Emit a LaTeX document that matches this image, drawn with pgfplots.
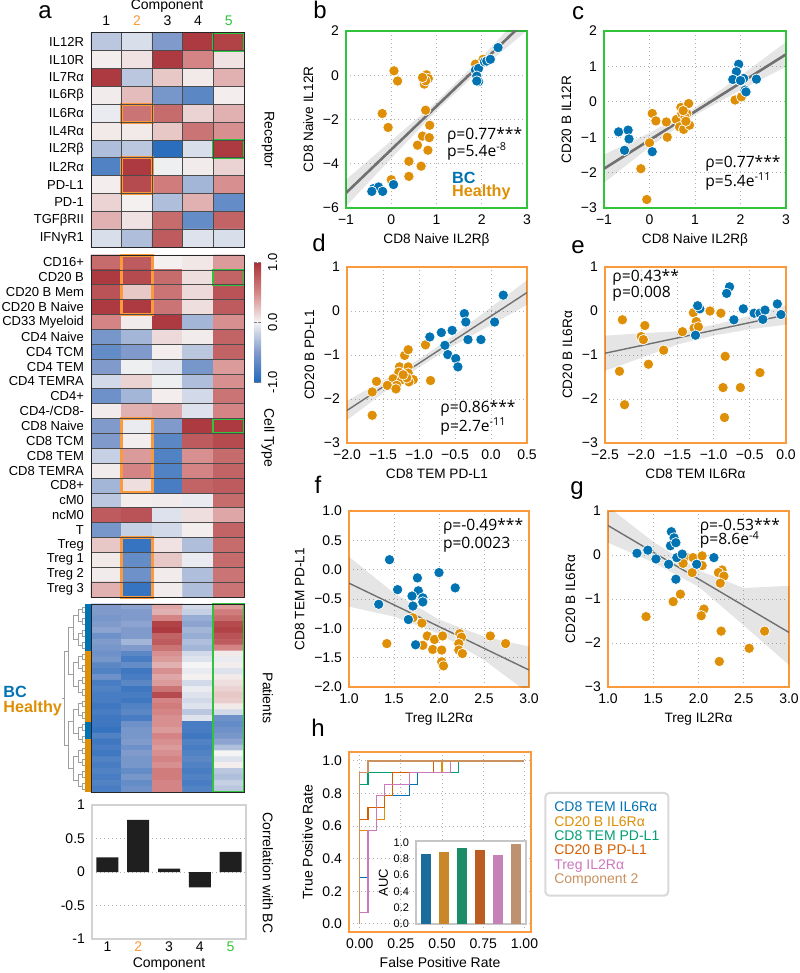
\documentclass[border=0pt]{standalone}
\usepackage{fontspec}
\setmainfont{Liberation Sans}
\newfontfamily\annfont{Open Sans}
\usepackage{pgfplots}
\pgfplotsset{compat=1.18}
\newcommand{\fs}[1]{\fontsize{#1}{#1}\selectfont}
\definecolor{bcblue}{RGB}{1,115,178}
\definecolor{hlor}{RGB}{222,143,5}
\definecolor{frameor}{RGB}{250,154,60}
\definecolor{framegr}{RGB}{50,195,60}
\definecolor{regc}{RGB}{112,112,112}
\definecolor{rocb}{RGB}{1,115,178}
\definecolor{roco}{RGB}{222,143,5}
\definecolor{rocg}{RGB}{2,158,115}
\definecolor{rocv}{RGB}{213,94,0}
\definecolor{rocp}{RGB}{204,120,188}
\definecolor{rocbr}{RGB}{202,145,97}
\definecolor{auca}{RGB}{26,108,156}
\definecolor{aucb}{RGB}{200,135,40}
\definecolor{aucc}{RGB}{26,140,104}
\definecolor{aucd}{RGB}{188,92,34}
\definecolor{auce}{RGB}{196,130,184}
\definecolor{aucf}{RGB}{190,146,112}
\tikzset{ann/.style={anchor=west, font=\annfont\fs{7.8}, inner sep=0pt}}
\pgfplotsset{
  colormap={vlag}{rgb255=(35,105,189) rgb255=(128,155,203) rgb255=(245,244,244) rgb255=(212,132,132) rgb255=(168,50,56)},
  heat/.style={scale only axis, anchor=north west, width=76.5pt, enlargelimits=false,
    xmin=-0.5, xmax=4.5, y dir=reverse, colormap name=vlag, point meta min=-1, point meta max=1,
    axis on top, major tick length=0pt, minor tick length=0pt,
    minor xtick={0.5,1.5,2.5,3.5}, xminorgrids=true, yminorgrids=true,
    minor grid style={black!70, line width=0.35pt},
    axis line style={black!85, line width=0.5pt},
    tick label style={font=\fs{6.5}}, clip=false},
  hm/.style={matrix plot*, mesh/cols=5, point meta=explicit},
  sc/.style={scale only axis, anchor=north west, enlargelimits=false, grid=major,
    grid style={gray!60, line width=0.5pt, dash pattern=on 0.6pt off 1.4pt},
    major tick length=0pt, tick label style={font=\fs{7}}, label style={font=\fs{6.8}},
    xlabel style={yshift=2.5pt}, ylabel style={yshift=-2pt}},
  bcpt/.style={only marks, mark=*, mark size=2.6pt, mark options={fill=bcblue, draw=white, line width=0.35pt}},
  hlpt/.style={only marks, mark=*, mark size=2.6pt, mark options={fill=hlor, draw=white, line width=0.35pt}},
  band/.style={fill=black, fill opacity=0.1, draw=none},
}
\begin{document}
\begin{tikzpicture}
\useasboundingbox (0pt,0pt) rectangle (399.5pt,-486.5pt);

% ---------------- panel a: receptor heatmap
\begin{axis}[heat, at={(45.5pt,-16.5pt)}, height=107pt, ymin=-0.5, ymax=11.5,
  xtick={0,1,2,3,4}, xticklabels={1,\textcolor{frameor}{2},3,4,\textcolor{framegr}{5}}, xticklabel pos=upper,
  xticklabel style={font=\fs{7}},
  ytick={0,...,11}, yticklabels={IL12R,IL10R,IL7Rα,IL6Rβ,IL6Rα,IL4Rα,IL2Rβ,IL2Rα,PD-L1,PD-1,TGFβRII,IFNγR1},
  minor ytick={0.5,1.5,...,10.5}]
\addplot[hm] coordinates {
(0,0)[-0.25] (1,0)[-0.12] (2,0)[-0.5] (3,0)[0.95] (4,0)[0.9]
(0,1)[0.03] (1,1)[0.08] (2,1)[0.95] (3,1)[0.5] (4,1)[0.08]
(0,2)[0.95] (1,2)[-0.25] (2,2)[0.2] (3,2)[0.05] (4,2)[0.3]
(0,3)[0.04] (1,3)[0.25] (2,3)[-0.55] (3,3)[-0.7] (4,3)[0.03]
(0,4)[-0.05] (1,4)[0.6] (2,4)[0.65] (3,4)[0.15] (4,4)[0.3]
(0,5)[0.05] (1,5)[0.05] (2,5)[0.2] (3,5)[0.6] (4,5)[0.45]
(0,6)[-0.3] (1,6)[-0.25] (2,6)[-0.95] (3,6)[-0.12] (4,6)[0.95]
(0,7)[-0.75] (1,7)[0.95] (2,7)[-0.03] (3,7)[0.04] (4,7)[0.15]
(0,8)[0.03] (1,8)[0.85] (2,8)[0.55] (3,8)[-0.35] (4,8)[0.45]
(0,9)[0.15] (1,9)[0.02] (2,9)[-0.3] (3,9)[0.3] (4,9)[-0.65]
(0,10)[0.3] (1,10)[0.08] (2,10)[0.65] (3,10)[-0.65] (4,10)[0.7]
(0,11)[-0.12] (1,11)[-0.3] (2,11)[0.75] (3,11)[-0.1] (4,11)[-0.12]
};
\draw[frameor, line width=1.5pt] (axis cs:0.5,3.5) rectangle (axis cs:1.5,4.5);
\draw[frameor, line width=1.5pt] (axis cs:0.5,6.5) rectangle (axis cs:1.5,8.5);
\draw[framegr, line width=1pt] (axis cs:3.5,-0.5) rectangle (axis cs:4.5,0.5);
\draw[framegr, line width=1pt] (axis cs:3.5,5.5) rectangle (axis cs:4.5,6.5);
\end{axis}

% ---------------- cell type heatmap
\begin{axis}[heat, at={(45.5pt,-127.5pt)}, height=171pt, ymin=-0.5, ymax=22.5,
  xtick=\empty, ytick={0,...,22},
  yticklabels={CD16+,CD20 B,CD20 B Mem,CD20 B Naive,CD33 Myeloid,CD4 Naive,CD4 TCM,CD4 TEM,CD4 TEMRA,CD4+,CD4-/CD8-,CD8 Naive,CD8 TCM,CD8 TEM,CD8 TEMRA,CD8+,cM0,ncM0,T,Treg,Treg 1,Treg 2,Treg 3},
  minor ytick={0.5,1.5,...,21.5},
  colorbar, colorbar style={at={(parent axis.north east)}, anchor=north west, xshift=-3.5pt, yshift=-3.5pt,
    width=3.5pt, height=60pt, ytick={-1,0,1}, yticklabels={-1.0,0.0,1.0},
    yticklabel style={rotate=90, anchor=north, font=\fs{6.5}}, major tick length=1.5pt,
    axis line style={draw=none}}]
\addplot[hm] coordinates {
(0,0)[0.65] (1,0)[0.75] (2,0)[0.02] (3,0)[0.06] (4,0)[0.4]
(0,1)[0.95] (1,1)[0.85] (2,1)[0.65] (3,1)[0.1] (4,1)[0.7]
(0,2)[0.8] (1,2)[0.2] (2,2)[0.6] (3,2)[0.12] (4,2)[0.8]
(0,3)[0.95] (1,3)[0.95] (2,3)[0.6] (3,3)[0.1] (4,3)[0.75]
(0,4)[0.5] (1,4)[0.04] (2,4)[0.95] (3,4)[-0.35] (4,4)[0.45]
(0,5)[-0.55] (1,5)[-0.35] (2,5)[0.12] (3,5)[0.04] (4,5)[0.7]
(0,6)[-0.65] (1,6)[-0.5] (2,6)[0.03] (3,6)[-0.25] (4,6)[0.7]
(0,7)[-0.5] (1,7)[-0.03] (2,7)[-0.1] (3,7)[-0.55] (4,7)[0.4]
(0,8)[-0.15] (1,8)[0.15] (2,8)[-0.03] (3,8)[-0.3] (4,8)[0.45]
(0,9)[-0.6] (1,9)[-0.35] (2,9)[0.03] (3,9)[-0.15] (4,9)[0.6]
(0,10)[0.04] (1,10)[0.3] (2,10)[0.35] (3,10)[-0.1] (4,10)[0.5]
(0,11)[-0.5] (1,11)[-0.05] (2,11)[-0.5] (3,11)[0.95] (4,11)[0.95]
(0,12)[-0.5] (1,12)[0.03] (2,12)[-0.7] (3,12)[0.75] (4,12)[0.85]
(0,13)[-0.2] (1,13)[0.4] (2,13)[-0.75] (3,13)[0.45] (4,13)[0.65]
(0,14)[0.04] (1,14)[0.5] (2,14)[-0.75] (3,14)[0.5] (4,14)[0.7]
(0,15)[-0.35] (1,15)[0.1] (2,15)[-0.8] (3,15)[0.7] (4,15)[0.75]
(0,16)[-0.25] (1,16)[0.03] (2,16)[0.04] (3,16)[-0.05] (4,16)[0.65]
(0,17)[0.75] (1,17)[0.8] (2,17)[-0.1] (3,17)[0.1] (4,17)[0.35]
(0,18)[-0.55] (1,18)[-0.2] (2,18)[-0.15] (3,18)[0.03] (4,18)[0.7]
(0,19)[0.2] (1,19)[-0.9] (2,19)[0.08] (3,19)[-0.3] (4,19)[0.65]
(0,20)[0.05] (1,20)[-0.65] (2,20)[0.2] (3,20)[-0.05] (4,20)[0.65]
(0,21)[0.04] (1,21)[-0.6] (2,21)[0.04] (3,21)[-0.3] (4,21)[0.6]
(0,22)[0.3] (1,22)[-0.9] (2,22)[0.04] (3,22)[-0.3] (4,22)[0.6]
};
\draw[frameor, line width=1.5pt] (axis cs:0.5,-0.5) rectangle (axis cs:1.5,3.5);
\draw[frameor, line width=1.5pt] (axis cs:0.5,10.5) rectangle (axis cs:1.5,15.5);
\draw[frameor, line width=1.5pt] (axis cs:0.5,18.5) rectangle (axis cs:1.5,22.5);
\draw[framegr, line width=1pt] (axis cs:3.5,0.5) rectangle (axis cs:4.5,1.5);
\draw[framegr, line width=1pt] (axis cs:3.5,10.5) rectangle (axis cs:4.5,11.5);
\end{axis}

% ---------------- patients heatmap
\begin{axis}[heat, at={(45.5pt,-302pt)}, height=94pt, ymin=-0.5, ymax=31.5,
  xtick=\empty, ytick=\empty, minor ytick={0.5,1.5,...,30.5},
  minor grid style={black!70, line width=0.3pt}]
\addplot[hm] coordinates {
(0,0)[-0.5] (1,0)[-0.45] (2,0)[0.35] (3,0)[-0.15] (4,0)[0.4]
(0,1)[-0.5] (1,1)[-0.5] (2,1)[0.3] (3,1)[-0.2] (4,1)[0.55]
(0,2)[-0.55] (1,2)[-0.5] (2,2)[0.5] (3,2)[-0.4] (4,2)[0.65]
(0,3)[-0.5] (1,3)[-0.45] (2,3)[0.9] (3,3)[-0.45] (4,3)[0.85]
(0,4)[-0.45] (1,4)[-0.5] (2,4)[0.95] (3,4)[-0.35] (4,4)[0.9]
(0,5)[-0.6] (1,5)[-0.5] (2,5)[0.7] (3,5)[-0.4] (4,5)[0.8]
(0,6)[-0.5] (1,6)[-0.35] (2,6)[0.75] (3,6)[-0.3] (4,6)[0.75]
(0,7)[-0.55] (1,7)[-0.5] (2,7)[0.6] (3,7)[-0.35] (4,7)[0.5]
(0,8)[-0.6] (1,8)[-0.7] (2,8)[0.45] (3,8)[-0.15] (4,8)[0.05]
(0,9)[-0.55] (1,9)[-0.8] (2,9)[0.4] (3,9)[-0.1] (4,9)[-0.05]
(0,10)[-0.7] (1,10)[-0.65] (2,10)[0.3] (3,10)[0.0] (4,10)[0.03]
(0,11)[-0.75] (1,11)[-0.85] (2,11)[0.45] (3,11)[-0.05] (4,11)[-0.1]
(0,12)[-0.6] (1,12)[-0.8] (2,12)[0.35] (3,12)[0.02] (4,12)[0.05]
(0,13)[-0.8] (1,13)[-0.7] (2,13)[0.4] (3,13)[-0.15] (4,13)[0.1]
(0,14)[-0.75] (1,14)[-0.85] (2,14)[0.6] (3,14)[-0.05] (4,14)[0.15]
(0,15)[-0.8] (1,15)[-0.8] (2,15)[0.85] (3,15)[-0.1] (4,15)[0.2]
(0,16)[-0.8] (1,16)[-0.85] (2,16)[0.5] (3,16)[-0.15] (4,16)[0.18]
(0,17)[-0.85] (1,17)[-0.75] (2,17)[0.55] (3,17)[-0.1] (4,17)[0.05]
(0,18)[-0.8] (1,18)[-0.7] (2,18)[0.5] (3,18)[-0.25] (4,18)[-0.15]
(0,19)[-0.85] (1,19)[-0.8] (2,19)[0.45] (3,19)[-0.1] (4,19)[-0.6]
(0,20)[-0.85] (1,20)[-0.6] (2,20)[0.45] (3,20)[-0.8] (4,20)[-0.65]
(0,21)[-0.9] (1,21)[-0.55] (2,21)[0.4] (3,21)[-0.8] (4,21)[-0.6]
(0,22)[-0.75] (1,22)[-0.55] (2,22)[0.5] (3,22)[-0.85] (4,22)[-0.55]
(0,23)[-0.85] (1,23)[-0.5] (2,23)[0.45] (3,23)[-0.75] (4,23)[-0.45]
(0,24)[-0.8] (1,24)[-0.6] (2,24)[0.4] (3,24)[-0.8] (4,24)[-0.3]
(0,25)[-0.85] (1,25)[-0.5] (2,25)[0.45] (3,25)[-0.75] (4,25)[0.0]
(0,26)[-0.75] (1,26)[-0.55] (2,26)[0.5] (3,26)[-0.7] (4,26)[-0.1]
(0,27)[-0.8] (1,27)[-0.55] (2,27)[0.45] (3,27)[-0.75] (4,27)[0.03]
(0,28)[-0.75] (1,28)[-0.65] (2,28)[0.55] (3,28)[-0.8] (4,28)[-0.25]
(0,29)[-0.8] (1,29)[-0.55] (2,29)[0.55] (3,29)[-0.75] (4,29)[-0.3]
(0,30)[-0.75] (1,30)[-0.65] (2,30)[0.5] (3,30)[-0.8] (4,30)[-0.2]
(0,31)[-0.8] (1,31)[-0.6] (2,31)[0.5] (3,31)[-0.75] (4,31)[-0.25]
};
\draw[framegr, line width=1pt] (axis cs:3.5,-0.5) rectangle (axis cs:4.5,31.5);
\end{axis}

% ---------------- dendrogram + group bar
\begin{axis}[scale only axis, anchor=north west, at={(31pt,-302pt)}, width=14.5pt, height=94pt,
  hide axis, xmin=0, xmax=29, ymin=0, ymax=32, y dir=reverse, clip=false]
\addplot[gray!75, line width=0.4pt, unbounded coords=jump] coordinates {
(23,0.5)(20,0.5)(20,1.5)(23,1.5)(0,nan)
(23,2.5)(20,2.5)(20,3.5)(23,3.5)(0,nan)
(23,4.5)(20,4.5)(20,5.5)(23,5.5)(0,nan)
(23,6.5)(20,6.5)(20,7.5)(23,7.5)(0,nan)
(23,8.5)(20,8.5)(20,9.5)(23,9.5)(0,nan)
(23,10.5)(20,10.5)(20,11.5)(23,11.5)(0,nan)
(23,12.5)(20,12.5)(20,13.5)(23,13.5)(0,nan)
(23,14.5)(20,14.5)(20,15.5)(23,15.5)(0,nan)
(23,16.5)(20,16.5)(20,17.5)(23,17.5)(0,nan)
(23,18.5)(20,18.5)(20,19.5)(23,19.5)(0,nan)
(23,20.5)(20,20.5)(20,21.5)(23,21.5)(0,nan)
(23,22.5)(20,22.5)(20,23.5)(23,23.5)(0,nan)
(23,24.5)(20,24.5)(20,25.5)(23,25.5)(0,nan)
(23,26.5)(20,26.5)(20,27.5)(23,27.5)(0,nan)
(23,28.5)(20,28.5)(20,29.5)(23,29.5)(0,nan)
(23,30.5)(20,30.5)(20,31.5)(23,31.5)(0,nan)
(20,1)(16,1)(16,3)(20,3)(0,nan)
(20,5)(16,5)(16,7)(20,7)(0,nan)
(20,9)(16,9)(16,11)(20,11)(0,nan)
(20,13)(16,13)(16,15)(20,15)(0,nan)
(20,17)(16,17)(16,19)(20,19)(0,nan)
(20,21)(16,21)(16,23)(20,23)(0,nan)
(20,25)(16,25)(16,27)(20,27)(0,nan)
(20,29)(16,29)(16,31)(20,31)(0,nan)
(16,2)(11,2)(11,6)(16,6)(0,nan)
(16,10)(11,10)(11,14)(16,14)(0,nan)
(16,18)(11,18)(11,22)(16,22)(0,nan)
(16,26)(11,26)(11,30)(16,30)(0,nan)
(11,4)(6,4)(6,12)(11,12)(0,nan)
(11,20)(6,20)(6,28)(11,28)(0,nan)
(6,8)(2,8)(2,24)(6,24)(0,nan)
(2,16)(0,16)
};
\addplot[bcblue, line width=3pt] coordinates {(26,0) (26,8)};
\addplot[hlor, line width=3pt] coordinates {(26,8) (26,20)};
\addplot[bcblue, line width=3pt] coordinates {(26,20) (26,23)};
\addplot[hlor, line width=3pt] coordinates {(26,23) (26,32)};
\end{axis}

% ---------------- correlation bar chart
\begin{axis}[scale only axis, anchor=north west, at={(46pt,-402.5pt)}, width=77pt, height=67pt,
  xmin=0.5, xmax=5.5, ymin=-1, ymax=1, ybar, bar width=11pt, bar shift=0pt,
  xtick={1,2,3,4,5}, xticklabels={1,\textcolor{frameor}{2},3,4,\textcolor{framegr}{5}},
  xticklabel style={yshift=2pt},
  ytick={-1,-0.5,0,0.5,1}, yticklabels={-1,-0.5,0,0.5,1},
  ymajorgrids, grid style={gray!60, line width=0.5pt, dash pattern=on 0.6pt off 1.4pt},
  major tick length=0pt, axis line style={gray!35, line width=1pt},
  tick label style={font=\fs{7}}, xlabel={Component}, label style={font=\fs{7}},
  xlabel style={yshift=4pt}]
\addplot[fill=black!88, draw=none] coordinates {(1,0.22) (2,0.78) (3,0.05) (4,-0.23) (5,0.30)};
\end{axis}

% labels for panel a
\node[font=\fs{12}] at (22.5pt,-6pt) {a};
\node[font=\fs{7}] at (83.5pt,-3pt) {Component};
\node[font=\fs{7}, rotate=-90] at (134pt,-70pt) {Receptor};
\node[font=\fs{7}, rotate=-90] at (134pt,-219pt) {Cell Type};
\node[font=\fs{7}, rotate=-90] at (134pt,-349pt) {Patients};
\node[font=\fs{7}, rotate=-90] at (134pt,-436.5pt) {Correlation with BC};
\node[font=\fs{8.1}\bfseries, text=bcblue, anchor=west, inner sep=0pt] at (1.5pt,-346pt) {BC};
\node[font=\fs{8.1}\bfseries, text=hlor, anchor=west, inner sep=0pt] at (1.5pt,-354pt) {Healthy};

% ---------------- panel b
\begin{axis}[sc, at={(173pt,-15.5pt)}, width=90.5pt, height=88.5pt, axis line style={framegr, line width=0.8pt},
  xmin=-1, xmax=3, ymin=-6, ymax=2, xtick={-1,0,1,2,3}, xticklabels={−1,0,1,2,3},
  ytick={-6,-4,-2,0,2}, yticklabels={−6,−4,−2,0,2},
  xlabel={CD8 Naive IL2Rβ}, ylabel={CD8 Naive IL12R}]
\addplot[band] coordinates {(-1,-4.72) (0,-2.96) (1,-1.2) (2,0.81) (3,3.02) (3,2.02) (2,0.31) (1,-1.6) (0,-3.76) (-1,-5.92)};
\addplot[regc, line width=1.3pt] coordinates {(-1,-5.32) (3,2.52)};
\addplot[hlpt] coordinates {(0.06,0.2) (0.14,-0.26) (0.72,-0.05) (0.78,0.02) (0.73,-0.4) (0.82,-0.15) (0.76,-0.25) (0.69,-0.1) (0.76,-1.58) (-0.2,-1.73) (-0.07,-2.36) (0.85,-2.26) (0.69,-2.75) (0.84,-2.82) (0.58,-3.16) (0.81,-3.39) (0.39,-3.89) (0.39,-4.57) (0.66,-4.11) (0.0,-4.72) (1.86,0.5) (2.03,0.72)};
\addplot[bcpt] coordinates {(2.36,1.25) (1.86,0.23) (1.93,0.31) (2.06,0.61) (2.11,0.64) (2.19,0.72) (1.89,-0.04) (1.93,-0.29) (1.89,-0.26) (-0.39,-5.12) (-0.28,-5.05) (-0.43,-5.25) (-0.19,-5.25) (0.05,-4.94)};
\node[ann] at (rel axis cs:0.556,0.412) {ρ=0.77***};
\node[ann] at (rel axis cs:0.556,0.318) {p=5.4e\textsuperscript{-8}};
\node[anchor=west, font=\fs{8.1}\bfseries, text=bcblue, inner sep=0pt] at (rel axis cs:0.584,0.17) {BC};
\node[anchor=west, font=\fs{8.1}\bfseries, text=hlor, inner sep=0pt] at (rel axis cs:0.584,0.086) {Healthy};
\end{axis}
\node[font=\fs{12}] at (160pt,-5pt) {b};

% ---------------- panel c
\begin{axis}[sc, at={(302pt,-15.5pt)}, width=91pt, height=88.5pt, axis line style={framegr, line width=0.8pt},
  xmin=-1, xmax=3, ymin=-3, ymax=2, xtick={-1,0,1,2,3}, xticklabels={−1,0,1,2,3},
  ytick={-3,-2,-1,0,1,2}, yticklabels={−3,−2,−1,0,1,2},
  xlabel={CD8 Naive IL2Rβ}, ylabel={CD20 B IL12R}]
\addplot[band] coordinates {(-1,-1.49) (0,-0.88) (1,-0.175) (2,0.73) (3,1.69) (3,0.99) (2,0.33) (1,-0.375) (0,-1.28) (-1,-2.29)};
\addplot[regc, line width=1.3pt] coordinates {(-1,-1.89) (3,1.34)};
\addplot[hlpt] coordinates {(1.88,0.05) (2.02,0.14) (0.06,-0.33) (0.14,-0.54) (0.37,-0.57) (0.39,-1.0) (0.0,-1.16) (-0.19,-1.89) (-0.06,-2.76) (0.59,-0.5) (0.69,-0.16) (0.86,-0.05) (0.71,-0.33) (0.82,-0.33) (0.66,-0.71) (0.75,-0.78) (0.88,-0.66) (0.78,-0.43) (0.74,-0.25) (0.8,-0.55)};
\addplot[bcpt] coordinates {(-0.68,-0.85) (-0.47,-0.8) (-0.45,-1.05) (-0.55,-1.37) (0.06,-1.41) (1.96,1.06) (1.91,0.85) (1.83,0.63) (2.07,0.66) (2.1,0.33) (2.35,0.64) (2.0,0.6) (2.12,0.28)};
\node[ann] at (rel axis cs:0.555,0.252) {ρ=0.77***};
\node[ann] at (rel axis cs:0.555,0.149) {p=5.4e\textsuperscript{-11}};
\end{axis}
\node[font=\fs{12}] at (289pt,-6.5pt) {c};

% ---------------- panel d
\begin{axis}[sc, at={(173.5pt,-133.5pt)}, width=90pt, height=88pt, axis line style={frameor, line width=0.8pt},
  xmin=-2, xmax=0.5, ymin=-3, ymax=1, xtick={-2,-1.5,-1,-0.5,0,0.5}, xticklabels={−2.0,−1.5,−1.0,−0.5,0.0,0.5},
  ytick={-3,-2,-1,0,1}, yticklabels={−3,−2,−1,0,1},
  xlabel={CD8 TEM PD-L1}, ylabel={CD20 B PD-L1}]
\addplot[band] coordinates {(-2,-2.04) (-1.5,-1.584) (-1,-1.098) (-0.5,-0.532) (0,0.084) (0.5,0.7) (0.5,0.14) (0,-0.316) (-0.5,-0.772) (-1,-1.278) (-1.5,-1.864) (-2,-2.48)};
\addplot[regc, line width=0.7pt] coordinates {(-2,-2.26) (0.5,0.42)};
\addplot[hlpt] coordinates {(-0.91,-0.77) (-1.2,-1.01) (-1.15,-0.88) (-1.27,-1.27) (-1.15,-1.27) (-1.28,-1.39) (-1.36,-1.54) (-1.24,-1.56) (-1.15,-1.41) (-1.08,-1.56) (-1.14,-1.61) (-1.31,-1.69) (-1.44,-1.69) (-1.59,-1.6) (-1.65,-1.84) (-0.84,-1.58) (-1.65,-2.37) (-1.32,-1.77) (-1.17,-1.52) (-1.22,-1.45)};
\addplot[bcpt] coordinates {(0.17,0.36) (-0.37,-0.06) (-0.35,-0.25) (0.05,-0.25) (-0.85,-0.59) (-0.69,-0.49) (-0.54,-0.44) (-0.32,-0.65) (-0.14,-0.65) (-0.64,-0.78) (-0.6,-0.99) (-0.49,-1.08) (-0.46,-1.27)};
\node[ann] at (rel axis cs:0.517,0.197) {ρ=0.86***};
\node[ann] at (rel axis cs:0.517,0.093) {p=2.7e\textsuperscript{-11}};
\end{axis}
\node[font=\fs{12}] at (159.5pt,-121.5pt) {d};

% ---------------- panel e
\begin{axis}[sc, at={(302.5pt,-133.5pt)}, width=90.5pt, height=88pt, axis line style={frameor, line width=0.8pt},
  xmin=-2.5, xmax=0, ymin=-3, ymax=1, xtick={-2.5,-2,-1.5,-1,-0.5,0}, xticklabels={−2.5,−2.0,−1.5,−1.0,−0.5,0.0},
  ytick={-3,-2,-1,0,1}, yticklabels={−3,−2,−1,0,1},
  xlabel={CD8 TEM IL6Rα}, ylabel={CD20 B IL6Rα}]
\addplot[band] coordinates {(-2.5,-0.56) (-2,-0.506) (-1.5,-0.462) (-1,-0.318) (-0.5,-0.114) (0,0.13) (0,-0.31) (-0.5,-0.414) (-1,-0.558) (-1.5,-0.762) (-2,-1.066) (-2.5,-1.36)};
\addplot[regc, line width=0.7pt] coordinates {(-2.5,-0.96) (0,-0.09)};
\addplot[hlpt] coordinates {(-2.26,-0.2) (-1.95,-0.33) (-2.0,-0.58) (-1.97,-0.65) (-1.69,-0.89) (-1.9,-1.21) (-2.3,-1.37) (-2.23,-2.13) (-1.43,-0.47) (-1.28,-0.04) (-1.24,-0.24) (-1.27,-0.39) (-1.21,-0.36) (-1.05,0.0) (-0.9,-0.05) (-0.84,-1.03) (-0.87,-1.74) (-0.63,-1.74) (-0.36,-1.4) (-0.85,-2.42)};
\addplot[bcpt] coordinates {(-1.25,-0.55) (-0.72,-0.2) (-0.59,0.05) (-0.44,-0.05) (-0.36,-0.05) (-0.29,0.02) (-0.32,-0.19) (-0.12,0.16) (-0.07,-0.08) (-1.19,0.05) (-0.78,0.55) (-0.82,0.4) (-1.22,0.12)};
\node[ann] at (rel axis cs:0.039,0.943) {ρ=0.43**};
\node[ann] at (rel axis cs:0.039,0.847) {p=0.008};
\end{axis}
\node[font=\fs{12}] at (289pt,-123.5pt) {e};

% ---------------- panel f
\begin{axis}[sc, at={(174.5pt,-255.5pt)}, width=90pt, height=88pt, axis line style={frameor, line width=0.8pt},
  xmin=1, xmax=3, ymin=-2, ymax=1, xtick={1,1.5,2,2.5,3}, xticklabels={1.0,1.5,2.0,2.5,3.0},
  ytick={-2,-1.5,-1,-0.5,0,0.5,1}, yticklabels={−2.0,−1.5,−1.0,−0.5,0.0,0.5,1.0},
  xlabel={Treg IL2Rα}, ylabel={CD8 TEM PD-L1}]
\addplot[band] coordinates {(1,0.22) (1.5,-0.4) (2,-0.85) (2.5,-1.14) (3,-1.31) (3,-2.11) (2.5,-1.54) (2,-1.09) (1.5,-0.8) (1,-0.63)};
\addplot[regc, line width=0.7pt] coordinates {(1,-0.23) (3,-1.71)};
\addplot[hlpt] coordinates {(1.71,-0.82) (1.81,-0.91) (1.42,-1.26) (1.82,-1.29) (1.87,-1.13) (1.95,-1.19) (1.93,-1.36) (2.04,-1.13) (2.03,-1.37) (2.03,-1.57) (2.05,-1.64) (2.23,-1.09) (2.25,-1.15) (2.22,-1.26) (2.22,-1.37) (2.26,-1.43) (2.57,-1.13) (2.74,-1.26)};
\addplot[bcpt] coordinates {(1.45,0.17) (1.76,-0.14) (1.54,-0.34) (1.77,-0.36) (1.70,-0.45) (1.82,-0.48) (2.0,-0.05) (2.18,-0.31) (1.33,-0.59) (1.71,-0.62) (1.82,-0.55) (1.66,-0.85) (1.74,-1.28)};
\node[ann] at (rel axis cs:0.52,0.911) {ρ=-0.49***};
\node[ann] at (rel axis cs:0.52,0.807) {p=0.0023};
\end{axis}
\node[font=\fs{12}] at (159pt,-242.5pt) {f};

% ---------------- panel g
\begin{axis}[sc, at={(304pt,-255.5pt)}, width=90.5pt, height=88pt, axis line style={frameor, line width=0.8pt},
  xmin=1, xmax=3, ymin=-3, ymax=1, xtick={1,1.5,2,2.5,3}, xticklabels={1.0,1.5,2.0,2.5,3.0},
  ytick={-3,-2,-1,0,1}, yticklabels={−3,−2,−1,0,1},
  xlabel={Treg IL2Rα}, ylabel={CD20 B IL6Rα}]
\addplot[band] coordinates {(1,1.1) (1.5,0.3) (2,-0.35) (2.5,-0.75) (3,-0.7) (3,-2.5) (2.5,-1.6) (2,-0.72) (1.5,-0.17) (1,0.28)};
\addplot[regc, line width=0.7pt] coordinates {(1,0.67) (3,-1.76)};
\addplot[hlpt] coordinates {(1.85,-0.04) (1.94,-0.06) (2.04,-0.02) (2.04,-0.24) (1.83,-0.19) (1.93,-0.40) (2.26,-0.34) (2.22,-0.4) (2.28,-0.48) (2.24,-0.64) (1.80,-0.89) (1.72,-1.06) (1.42,-1.4) (2.06,-1.23) (2.03,-1.38) (2.25,-1.73) (2.73,-1.73) (2.56,-2.12) (2.23,-2.42)};
\addplot[bcpt] coordinates {(1.32,0.04) (1.44,0.11) (1.53,-0.09) (1.67,-0.21) (1.70,0.53) (1.73,0.39) (1.69,0.21) (1.75,0.28) (1.76,-0.06) (1.82,0.02) (1.75,-0.55) (1.98,-0.21) (2.17,-0.06)};
\node[ann] at (rel axis cs:0.505,0.915) {ρ=-0.53***};
\node[ann] at (rel axis cs:0.505,0.835) {p=8.6e\textsuperscript{-4}};
\end{axis}
\node[font=\fs{12}] at (288.5pt,-245.5pt) {g};

% ---------------- panel h: ROC
\begin{axis}[sc, at={(174.5pt,-376pt)}, width=91pt, height=90pt, axis line style={frameor, line width=0.8pt},
  xlabel style={yshift=0pt}, ylabel style={yshift=0pt},
  xmin=-0.065, xmax=1.04, ymin=-0.05, ymax=1.055,
  xtick={0,0.25,0.5,0.75,1}, xticklabels={0.00,0.25,0.50,0.75,1.00},
  ytick={0,0.2,0.4,0.6,0.8,1}, yticklabels={0.0,0.2,0.4,0.6,0.8,1.0},
  xlabel={False Positive Rate}, ylabel={True Positive Rate}, label style={font=\fs{7}},
  legend image code/.code={}, legend cell align=left,
  legend style={at={(1.073,0.778)}, anchor=north west, draw=gray!30, line width=1pt, rounded corners=2pt,
    font=\fs{7}, inner sep=2.5pt, row sep=-3.2pt}]
\addplot[rocb, line width=0.6pt] coordinates {(0,0) (0,0.2857) (0.05,0.2857) (0.05,0.5714) (0.1,0.5714) (0.1,0.7857) (0.3,0.7857) (0.3,0.8571) (0.35,0.8571) (0.35,0.9286) (0.5,0.9286) (0.5,1) (1,1)};
\addlegendentry{\textcolor{rocb}{CD8 TEM IL6Rα}}
\addplot[roco, line width=0.6pt] coordinates {(0,0) (0,0.5714) (0.1,0.5714) (0.1,0.6429) (0.15,0.6429) (0.15,0.7857) (0.2,0.7857) (0.2,0.8571) (0.3,0.8571) (0.3,0.9286) (0.5,0.9286) (0.5,1) (1,1)};
\addlegendentry{\textcolor{roco}{CD20 B IL6Rα}}
\addplot[rocg, line width=0.6pt] coordinates {(0,0) (0,0.8571) (0.05,0.8571) (0.05,0.9286) (0.6,0.9286) (0.6,1) (1,1)};
\addlegendentry{\textcolor{rocg}{CD8 TEM PD-L1}}
\addplot[rocv, line width=0.6pt] coordinates {(0,0) (0,0.6429) (0.05,0.6429) (0.05,0.7143) (0.15,0.7143) (0.15,0.7857) (0.2,0.7857) (0.2,0.9286) (0.45,0.9286) (0.45,1) (1,1)};
\addlegendentry{\textcolor{rocv}{CD20 B PD-L1}}
\addplot[rocp, line width=0.6pt] coordinates {(0,0) (0,0.0714) (0.05,0.0714) (0.05,0.5714) (0.1,0.5714) (0.1,0.7857) (0.15,0.7857) (0.15,0.8571) (0.3,0.8571) (0.3,0.9286) (0.55,0.9286) (0.55,1) (1,1)};
\addlegendentry{\textcolor{rocp}{Treg IL2Rα}}
\addplot[rocbr, line width=0.6pt] coordinates {(0,0) (0,0.9286) (0.05,0.9286) (0.05,1) (1,1)};
\addlegendentry{\textcolor{rocbr}{Component 2}}
\end{axis}
\node[font=\fs{12}] at (159pt,-364pt) {h};

% ---------------- inset AUC
\begin{axis}[scale only axis, anchor=north west, at={(208pt,-420.5pt)}, width=55pt, height=41.5pt,
  xmin=0.45, xmax=6.55, ymin=0, ymax=1.02, ybar, bar width=5.2pt, bar shift=0pt,
  xtick=\empty, ytick={0,0.2,0.4,0.6,0.8,1}, yticklabels={0.0,0.2,0.4,0.6,0.8,1.0},
  major tick length=0pt, tick label style={font=\fs{5.5}}, ylabel={AUC}, ylabel style={font=\fs{6.5}, yshift=-4pt},
  axis line style={gray!45, line width=1pt}, axis background/.style={fill=white}]
\addplot[fill=auca, draw=none] coordinates {(1,0.86)};
\addplot[fill=aucb, draw=none] coordinates {(2,0.89)};
\addplot[fill=aucc, draw=none] coordinates {(3,0.93)};
\addplot[fill=aucd, draw=none] coordinates {(4,0.91)};
\addplot[fill=auce, draw=none] coordinates {(5,0.85)};
\addplot[fill=aucf, draw=none] coordinates {(6,0.98)};
\end{axis}
\end{tikzpicture}
\end{document}
